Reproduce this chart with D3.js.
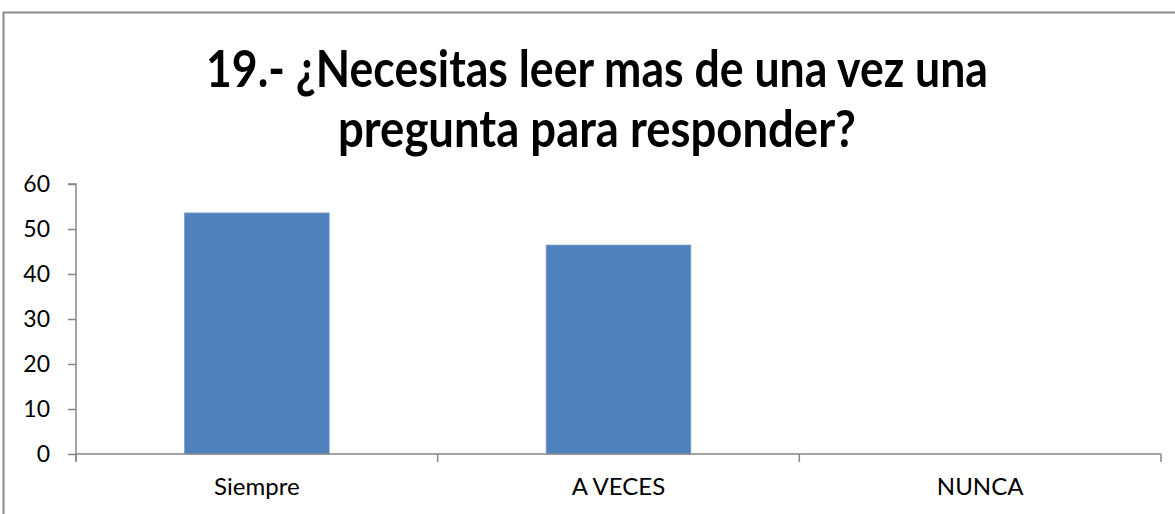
<!DOCTYPE html>
<html>
<head>
<meta charset="utf-8">
<script src="https://cdn.jsdelivr.net/npm/d3@7"></script>
<style>
  html, body { margin: 0; padding: 0; background: #fff; }
  svg { display: block; }
</style>
</head>
<body>
<svg id="chart" width="1175" height="514"></svg>
<script>
const titleLines = ["19.- ¿Necesitas leer mas de una vez una", "pregunta para responder?"];
const titleWidths = [782, 518];
const categories = ["Siempre", "A VECES", "NUNCA"];
const values = [53.57, 46.43, 0];
const yTicks = [0, 10, 20, 30, 40, 50, 60];

const svg = d3.select("#chart");
const m = { left: 76, right: 1161, top: 184, bottom: 454 };

// outer frame (extends past the right and bottom edges)
svg.append("rect")
  .attr("x", 3.5).attr("y", 12.5)
  .attr("width", 1250).attr("height", 600)
  .attr("fill", "#fff").attr("stroke", "#8a8a8a").attr("stroke-width", 2);

// title
svg.append("g").selectAll("text").data(titleLines).join("text")
  .attr("text-anchor", "middle")
  .attr("font-family", "Lato, 'Open Sans', sans-serif")
  .attr("font-weight", "bold")
  .attr("font-size", 52)
  .attr("fill", "#000")
  .attr("x", 597)
  .attr("y", (d, i) => 87 + i * 60)
  .attr("textLength", (d, i) => titleWidths[i])
  .attr("lengthAdjust", "spacingAndGlyphs")
  .text(d => d);

const x = d3.scaleBand().domain(categories).range([m.left, m.right]).paddingInner(0.6).paddingOuter(0.3);
const xAxisBand = d3.scaleBand().domain(categories).range([m.left, m.right]);
const y = d3.scaleLinear().domain([0, 60]).range([m.bottom, m.top]);

// bars
svg.append("g").selectAll("rect").data(values).join("rect")
  .attr("x", (d, i) => x(categories[i]))
  .attr("y", d => y(d))
  .attr("width", x.bandwidth())
  .attr("height", d => y(0) - y(d))
  .attr("fill", "#4f81bd")
  .attr("stroke", "#7d9fd0").attr("stroke-width", 0.8);

// y axis
const yAxis = d3.axisLeft(y).tickValues(yTicks).tickSize(8).tickPadding(18);
const gy = svg.append("g").attr("transform", `translate(${m.left},0)`).call(yAxis);
gy.select(".domain").attr("stroke", "#868686").attr("stroke-width", 1.5).attr("d", `M-8,${m.top}H0V${m.bottom + 7}`);
gy.selectAll(".tick line").attr("stroke", "#868686").attr("stroke-width", 1.5);
gy.selectAll(".tick text")
  .attr("font-family", "Lato, 'Open Sans', sans-serif")
  .attr("font-size", 23).attr("fill", "#000");

// x axis
const xAxis = d3.axisBottom(xAxisBand).tickSize(0).tickPadding(0);
const gx = svg.append("g").attr("transform", `translate(0,${m.bottom})`).call(xAxis);
gx.select(".domain").attr("stroke", "#868686").attr("stroke-width", 1.5).attr("d", `M${m.left},0H${m.right}`);
gx.selectAll(".tick line").remove();
gx.selectAll(".tick text")
  .attr("font-family", "Lato, 'Open Sans', sans-serif")
  .attr("font-size", 24).attr("fill", "#000")
  .attr("dy", null).attr("y", 41);
// category boundary ticks
const bounds = categories.map(c => xAxisBand(c)).concat([m.right]);
gx.append("g").selectAll("line").data(bounds).join("line")
  .attr("x1", d => d).attr("x2", d => d)
  .attr("y1", 0).attr("y2", 8)
  .attr("stroke", "#868686").attr("stroke-width", 1.5);
</script>
</body>
</html>
